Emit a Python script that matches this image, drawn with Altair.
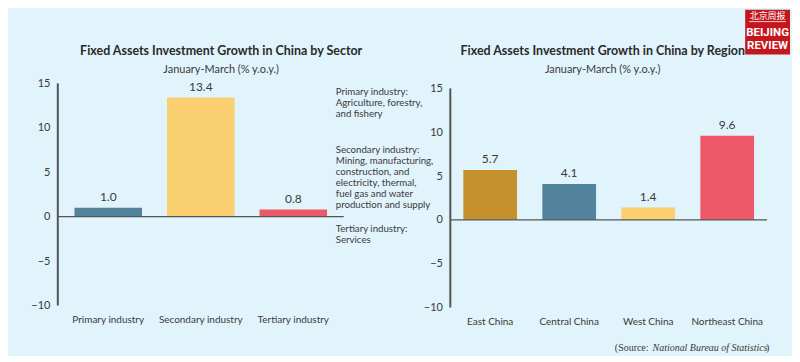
import altair as alt
import pandas as pd

# ---- data ----
sectors = ["Primary industry", "Secondary industry", "Tertiary industry"]
sector_values = [1.0, 13.4, 0.8]
sector_colors = ["#51839c", "#f9cf6f", "#ee5869"]

regions = ["East China", "Central China", "West China", "Northeast China"]
region_values = [5.7, 4.1, 1.4, 9.6]
region_colors = ["#c5912d", "#51839c", "#f9cf6f", "#ee5869"]

y_ticks = [-10, -5, 0, 5, 10, 15]

title_left = "Fixed Assets Investment Growth in China by Sector"
title_right = "Fixed Assets Investment Growth in China by Region"
subtitle = "January-March (% y.o.y.)"

note_primary = ["Primary industry:", "Agriculture, forestry,", "and fishery"]
note_secondary = ["Secondary industry:", "Mining, manufacturing,", "construction, and",
                  "electricity, thermal,", "fuel gas and water", "production and supply"]
note_tertiary = ["Tertiary industry:", "Services"]

FONT = "Lato"
TXT = "#3a3a3a"
BG = "#e1f3fb"

df_s = pd.DataFrame({"cat": sectors, "val": sector_values, "col": sector_colors})
df_r = pd.DataFrame({"cat": regions, "val": region_values, "col": region_colors})
one = pd.DataFrame({"a": [0]})


def txt(text, x, y, **kw):
    params = dict(color=TXT, font=FONT)
    params.update(kw)
    return alt.Chart(one).mark_text(**params).encode(
        x=alt.value(x), y=alt.value(y), text=alt.value(text))


def panel(df, cats, width, height, ydom, pin, pout, title, tx):
    x = alt.X("cat:N", sort=cats, title=None,
              scale=alt.Scale(paddingInner=pin, paddingOuter=pout),
              axis=alt.Axis(labelAngle=0, domain=False, ticks=False, labelPadding=9,
                            labelFontSize=10, labelColor=TXT, labelFont=FONT))
    y = alt.Y("val:Q", title=None, scale=alt.Scale(domain=ydom, nice=False, zero=False),
              axis=alt.Axis(values=y_ticks, domain=False, ticks=False, grid=False,
                            labelPadding=8, labelFontSize=11, labelColor=TXT, labelFont=FONT))
    base = alt.Chart(df)
    bars = base.mark_bar().encode(x=x, y=y, color=alt.Color("col:N", scale=None))
    labels = base.mark_text(dy=-4, baseline="bottom", fontSize=12, color=TXT, font=FONT).encode(
        x=x, y=y, text=alt.Text("val:Q", format=".1f"))
    zero = alt.Chart(one).mark_rule(color="#555555", strokeWidth=1.2).encode(y=alt.datum(0))
    yaxis = alt.Chart(one).mark_rule(color="#555555", strokeWidth=2).encode(
        x=alt.value(0), y=alt.datum(15), y2=alt.datum(-10))
    t1 = txt(title, tx, -32, fontSize=12.5, fontWeight="bold", color="#2a2a2a", baseline="middle")
    t2 = txt(subtitle, tx, -13, fontSize=11, baseline="middle")
    return [bars, labels, zero, yaxis, t1, t2], dict(
        width=width, height=height,
        view=alt.ViewBackground(stroke="transparent", strokeWidth=0))


def note(lines, y):
    return txt(lines, 279, y, align="left", baseline="top", fontSize=9.7, lineHeight=11)


l_layers, l_props = panel(df_s, sectors, 287, 223, [-10, 15], 0.27, 0.18, title_left, 164)
left = alt.layer(*l_layers, note(note_primary, 4), note(note_secondary, 62),
                 note(note_tertiary, 141)).properties(**l_props)

r_layers, r_props = panel(df_r, regions, 318, 225, [-10, 15.57], 0.32, 0.165, title_right, 153)

logo_box = alt.Chart(one).mark_rect(color="#c4161c").encode(
    x=alt.value(296), x2=alt.value(341), y=alt.value(-74), y2=alt.value(-29))
logo_line = alt.Chart(one).mark_rule(color="white", strokeWidth=0.8).encode(
    x=alt.value(300), x2=alt.value(337), y=alt.value(-62))
logo_cn = txt("北京周报", 318.5, -67.5, color="white", fontSize=9, font="Noto Sans CJK SC")
logo_b = txt("BEIJING", 318.5, -51, color="white", fontSize=11.5, fontWeight="bold", font="Roboto")
logo_r = txt("REVIEW", 318.5, -38, color="white", fontSize=11.5, fontWeight="bold", font="Roboto")

src1 = txt("(Source:", 199, 266, align="right", fontSize=10, font="Liberation Serif")
src2 = txt("National Bureau of Statistics", 203, 266, align="left", fontSize=10,
           fontStyle="italic", font="Liberation Serif")
src3 = txt(")", 317, 266, align="left", fontSize=10, font="Liberation Serif")

right = alt.layer(*r_layers, logo_box, logo_line, logo_cn, logo_b, logo_r,
                  src1, src2, src3).properties(**r_props)

chart = alt.hconcat(left, right, spacing=107, bounds="flush").properties(
    padding={"left": 22, "top": 1, "right": 2, "bottom": 2},
    background=BG,
).configure_view(strokeWidth=0, stroke="transparent").configure(font=FONT)

chart.save("out.html", embed_options={"renderer": "svg", "actions": False})
